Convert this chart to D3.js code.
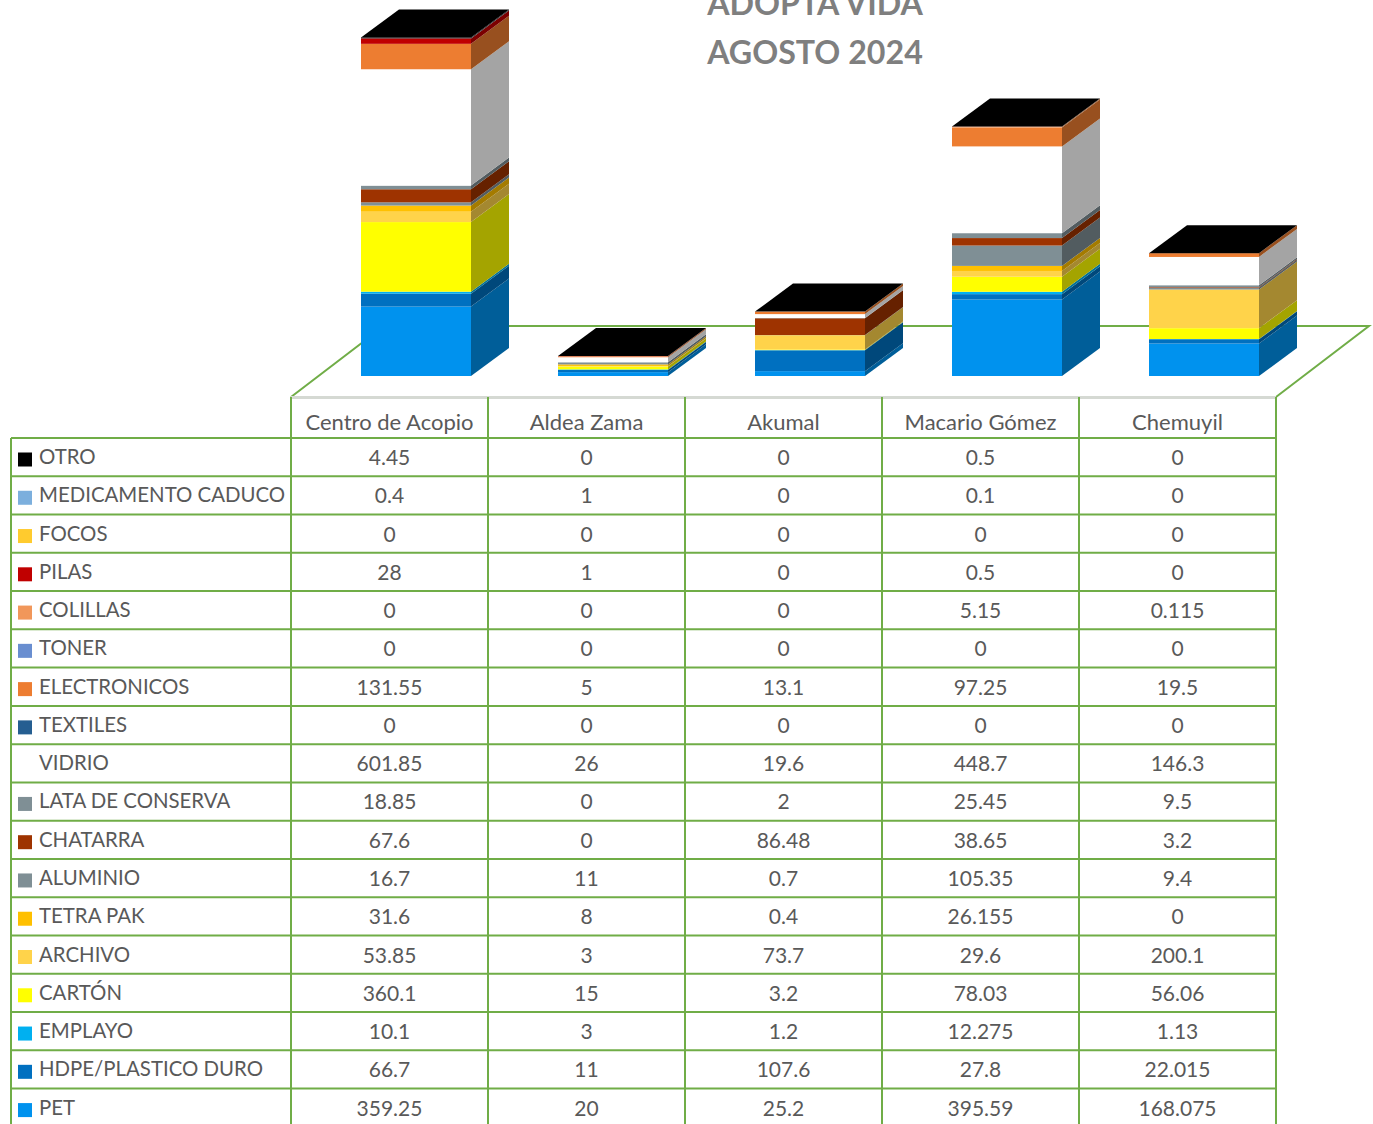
<!DOCTYPE html>
<html>
<head>
    <meta charset="utf-8">
    <title>Adopta Vida - Agosto 2024</title>
    <script src="https://cdn.jsdelivr.net/npm/d3@7"></script>
    <style>
        html, body { margin: 0; padding: 0; background: #fff; overflow: hidden; }
        text { font-family: Lato, "Open Sans", sans-serif; }
        .cell { font-size: 21px; fill: #595959; }
        .head { font-size: 22px; }
        .name { font-size: 20.4px; }
        .title { font-size: 32.2px; font-weight: 700; fill: #7f7f7f; text-anchor: middle; }
    </style>
</head>
<body>
    <div id="chart"></div>

    <script>
        var categories = ["Centro de Acopio", "Aldea Zama", "Akumal", "Macario Gómez", "Chemuyil"];
        var titleLines = ["ADOPTA VIDA", "AGOSTO 2024"];

        // series, listed bottom of the stack first
        var seriesNames = ["PET", "HDPE/PLASTICO DURO", "EMPLAYO", "CARTÓN", "ARCHIVO", "TETRA PAK", "ALUMINIO",
            "CHATARRA", "LATA DE CONSERVA", "VIDRIO", "TEXTILES", "ELECTRONICOS", "TONER", "COLILLAS", "PILAS",
            "FOCOS", "MEDICAMENTO CADUCO", "OTRO"];
        var seriesColors = ["#0092ee", "#0070c0", "#00b0f0", "#ffff00", "#ffd34a", "#ffc000", "#7f8f95",
            "#9e3300", "#7f8f95", "#ffffff", "#255e91", "#ed7d31", "#698ed0", "#f1975a", "#c00000",
            "#ffcb2e", "#7cafdd", "#000000"];

        var pet = [359.25, 20, 25.2, 395.59, 168.075];
        var hdpe = [66.7, 11, 107.6, 27.8, 22.015];
        var emplayo = [10.1, 3, 1.2, 12.275, 1.13];
        var carton = [360.1, 15, 3.2, 78.03, 56.06];
        var archivo = [53.85, 3, 73.7, 29.6, 200.1];
        var tetraPak = [31.6, 8, 0.4, 26.155, 0];
        var aluminio = [16.7, 11, 0.7, 105.35, 9.4];
        var chatarra = [67.6, 0, 86.48, 38.65, 3.2];
        var lata = [18.85, 0, 2, 25.45, 9.5];
        var vidrio = [601.85, 26, 19.6, 448.7, 146.3];
        var textiles = [0, 0, 0, 0, 0];
        var electronicos = [131.55, 5, 13.1, 97.25, 19.5];
        var toner = [0, 0, 0, 0, 0];
        var colillas = [0, 0, 0, 5.15, 0.115];
        var pilas = [28, 1, 0, 0.5, 0];
        var focos = [0, 0, 0, 0, 0];
        var medicamento = [0.4, 1, 0, 0.1, 0];
        var otro = [4.45, 0, 0, 0.5, 0];

        var seriesValues = [pet, hdpe, emplayo, carton, archivo, tetraPak, aluminio, chatarra, lata, vidrio,
            textiles, electronicos, toner, colillas, pilas, focos, medicamento, otro];

        var width = 1373, height = 1124;
        var green = "#70ad47";

        var svg = d3.select("#chart").append("svg")
            .attr("width", width)
            .attr("height", height)
            .style("display", "block");

        // table columns, the bars sit in the same columns but pushed back on the floor
        var tableLeft = 291, colStep = 197, tableRight = tableLeft + colStep * categories.length;
        var rowTop = 438, rowStep = 38.27;
        var depthX = 38, depthY = 28, barShift = 26.5;

        var x = d3.scaleBand().domain(categories).range([tableLeft, tableRight])
            .paddingInner(87 / 197).paddingOuter(43.5 / 197);
        var y = d3.scaleLinear().domain([0, 1800]).range([376, 28]);

        // floor
        var floorFront = 397, floorBack = 326, floorDx = 93;
        svg.append("path")
            .attr("d", d3.line()([[tableLeft, floorFront], [tableLeft + floorDx, floorBack], [tableRight + floorDx, floorBack], [tableRight, floorFront]]))
            .attr("fill", "none")
            .attr("stroke", green)
            .attr("stroke-width", 2);

        // stacked 3d bars
        var table = categories.map(function (c, i) {
            var row = { category: c };
            seriesNames.forEach(function (s, j) { row[s] = seriesValues[j][i]; });
            return row;
        });
        var stacked = d3.stack().keys(seriesNames)(table);

        var bars = svg.append("g").selectAll("g")
            .data(categories)
            .enter().append("g");

        bars.each(function (cat, i) {
            var g = d3.select(this);
            var x0 = x(cat) + barShift, x1 = x0 + x.bandwidth();

            stacked.forEach(function (layer, j) {
                var d = layer[i];
                if (d[1] === d[0]) return;
                var yb = y(d[0]), yt = y(d[1]);
                g.append("rect")
                    .attr("x", x0)
                    .attr("y", yt)
                    .attr("width", x.bandwidth())
                    .attr("height", yb - yt)
                    .attr("fill", seriesColors[j]);
                g.append("polygon")
                    .attr("points", [[x1, yb], [x1 + depthX, yb - depthY], [x1 + depthX, yt - depthY], [x1, yt]].join(" "))
                    .attr("fill", d3.rgb(seriesColors[j]).darker(1.24));
            });

            // lid of the stack, always the last series
            var top = y(stacked[stacked.length - 1][i][1]);
            g.append("polygon")
                .attr("points", [[x0, top], [x1, top], [x1 + depthX, top - depthY], [x0 + depthX, top - depthY]].join(" "))
                .attr("fill", seriesColors[seriesColors.length - 1]);
        });

        // title
        svg.selectAll(".title")
            .data(titleLines)
            .enter().append("text")
            .attr("class", "title")
            .attr("x", 815)
            .attr("y", function (d, i) { return 15 + i * 49; })
            .text(function (d) { return d; });

        // data table, top row is the last series
        var rows = d3.range(seriesNames.length).reverse();
        var tableBottom = height + 4;

        svg.append("line")
            .attr("x1", tableLeft).attr("x2", tableRight)
            .attr("y1", floorFront + 0.5).attr("y2", floorFront + 0.5)
            .attr("stroke", "#d5d9d3")
            .attr("stroke-width", 3);

        var gridG = svg.append("g").attr("stroke", green).attr("stroke-width", 2);

        d3.range(rows.length + 1).forEach(function (r) {
            gridG.append("line")
                .attr("x1", 11).attr("x2", tableRight)
                .attr("y1", rowTop + r * rowStep).attr("y2", rowTop + r * rowStep);
        });
        gridG.append("line").attr("x1", 11).attr("x2", 11).attr("y1", rowTop).attr("y2", tableBottom);
        d3.range(categories.length + 1).forEach(function (c) {
            gridG.append("line")
                .attr("x1", tableLeft + c * colStep).attr("x2", tableLeft + c * colStep)
                .attr("y1", floorFront).attr("y2", tableBottom);
        });

        // category header
        svg.selectAll(".head")
            .data(categories)
            .enter().append("text")
            .attr("class", "cell head")
            .attr("text-anchor", "middle")
            .attr("x", function (d, i) { return tableLeft + (i + 0.5) * colStep; })
            .attr("y", rowTop - 8)
            .text(function (d) { return d; });

        var rowG = svg.append("g").selectAll("g")
            .data(rows)
            .enter().append("g")
            .attr("transform", function (d, r) { return "translate(0," + (rowTop + r * rowStep) + ")"; });

        rowG.append("rect")
            .attr("x", 18)
            .attr("y", 14.5)
            .attr("width", 14)
            .attr("height", 14)
            .attr("fill", function (s) { return seriesColors[s]; });

        rowG.append("text")
            .attr("class", "cell name")
            .attr("x", 39)
            .attr("y", 26)
            .text(function (s) { return seriesNames[s]; });

        rowG.selectAll(".val")
            .data(function (s) { return seriesValues[s]; })
            .enter().append("text")
            .attr("class", "cell val")
            .attr("text-anchor", "middle")
            .attr("x", function (d, i) { return tableLeft + (i + 0.5) * colStep; })
            .attr("y", 27)
            .text(function (d) { return d; });
    </script>
</body>
</html>
